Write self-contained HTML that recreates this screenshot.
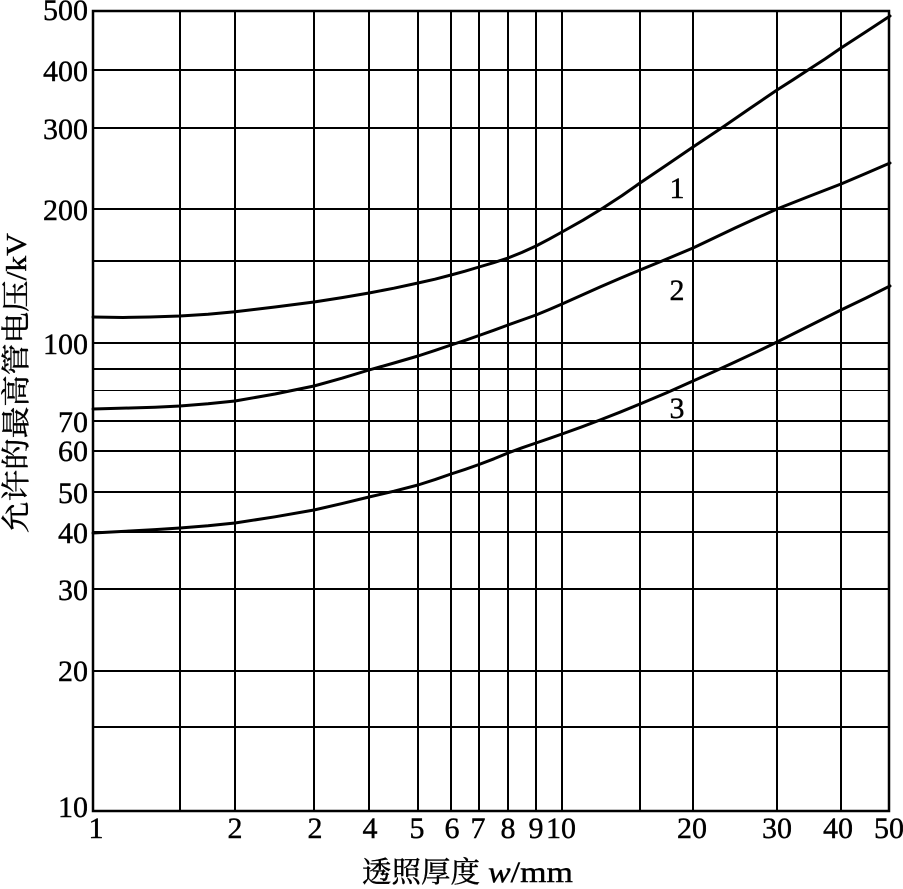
<!DOCTYPE html>
<html><head><meta charset="utf-8"><style>
html,body{margin:0;padding:0;background:#fff;}
svg{display:block;}
text{font-family:"Liberation Serif","Noto Serif CJK SC",serif;fill:#000;stroke:#000;stroke-width:0.4;}
</style></head><body>
<svg width="903" height="889" viewBox="0 0 903 889" xmlns="http://www.w3.org/2000/svg">
<rect width="903" height="889" fill="#fff"/>
<g stroke="#000" stroke-width="2" fill="none">
<line x1="180" y1="11" x2="180" y2="811"/>
<line x1="235" y1="11" x2="235" y2="811"/>
<line x1="314" y1="11" x2="314" y2="811"/>
<line x1="369" y1="11" x2="369" y2="811"/>
<line x1="418" y1="11" x2="418" y2="811"/>
<line x1="451" y1="11" x2="451" y2="811"/>
<line x1="479" y1="11" x2="479" y2="811"/>
<line x1="508" y1="11" x2="508" y2="811"/>
<line x1="536" y1="11" x2="536" y2="811"/>
<line x1="562" y1="11" x2="562" y2="811"/>
<line x1="640" y1="11" x2="640" y2="811"/>
<line x1="693" y1="11" x2="693" y2="811"/>
<line x1="777" y1="11" x2="777" y2="811"/>
<line x1="841" y1="11" x2="841" y2="811"/>
<line x1="93" y1="70" x2="889" y2="70"/>
<line x1="93" y1="128" x2="889" y2="128"/>
<line x1="93" y1="209" x2="889" y2="209"/>
<line x1="93" y1="261" x2="889" y2="261"/>
<line x1="93" y1="343" x2="889" y2="343"/>
<line x1="93" y1="369" x2="889" y2="369"/>
<line x1="93" y1="421" x2="889" y2="421"/>
<line x1="93" y1="451" x2="889" y2="451"/>
<line x1="93" y1="492" x2="889" y2="492"/>
<line x1="93" y1="532" x2="889" y2="532"/>
<line x1="93" y1="589" x2="889" y2="589"/>
<line x1="93" y1="671" x2="889" y2="671"/>
<line x1="93" y1="727" x2="889" y2="727"/>
</g>
<line x1="93" y1="390.5" x2="889" y2="390.5" stroke="#000" stroke-width="1"/>
<rect x="93" y="11" width="796" height="800" fill="none" stroke="#000" stroke-width="2.5"/>

<g stroke="#000" stroke-width="3" fill="none" stroke-linejoin="round" stroke-linecap="round">
<polyline points="93,317 123,317.5 150,317 180,316 208,314.2 235,311.7 275,307 314,302 342,297.6 369,293 394,288.2 418,283 435,279.2 451,275 465,271.2 479,267 494,262.6 508,258 522,252.4 536,246 549,239.2 562,232 583,220.2 603,208 622,195.6 640,183 667,164.8 693,147 708,137 723,127 750,108.4 777,90 793,79.8 808,70 825,59 841,48 866,31.8 890,16"/>
<polyline points="93,409 130,408 155,407.2 180,406 208,403.8 235,401 275,394 314,386 342,378.2 369,370 394,363 418,356 435,350.4 451,345 465,340.4 479,335.5 494,330.2 508,325 522,320 536,315 549,309.6 562,304 581,295.5 600,287 620,278.4 640,270 662,261 693,248 714,238 735,228 756,218.4 777,209 809,196.4 841,184 866,173.4 890,163"/>
<polyline points="93,533 130,531 155,529.6 180,528 208,525.8 235,523 275,516.8 314,510 342,503.6 369,497 394,491.2 418,485 435,479.6 451,474 465,469.4 479,464.5 494,458.8 508,453 522,447.8 536,443 549,438.6 562,434 581,427.2 600,420 620,412.2 640,404 667,392.6 693,381 714,371.6 735,362 756,352.2 777,342 809,326 841,310 866,298 890,286"/>
</g>

<g font-size="30" text-anchor="end">
<text x="88" y="20">500</text>
<text x="88" y="81">400</text>
<text x="88" y="139">300</text>
<text x="88" y="220">200</text>
<text x="88" y="354">100</text>
<text x="88" y="432">70</text>
<text x="88" y="461">60</text>
<text x="88" y="503">50</text>
<text x="88" y="543">40</text>
<text x="88" y="600">30</text>
<text x="88" y="681">20</text>
<text x="88" y="817">10</text>
</g>

<g font-size="30" text-anchor="middle">
<text x="96" y="838">1</text>
<text x="235" y="838">2</text>
<text x="315" y="838">2</text>
<text x="370" y="838">4</text>
<text x="417" y="838">5</text>
<text x="452" y="838">6</text>
<text x="478" y="838">7</text>
<text x="508" y="838">8</text>
<text x="536" y="838">9</text>
<text x="561" y="838">10</text>
<text x="692" y="838">20</text>
<text x="777" y="838">30</text>
<text x="838" y="838">40</text>
<text x="889" y="838">50</text>
</g>

<g font-size="30" text-anchor="middle">
<text x="677" y="198">1</text>
<text x="677" y="300">2</text>
<text x="677" y="418">3</text>
</g>

<text x="362" y="882" font-size="29" textLength="118" lengthAdjust="spacingAndGlyphs">透照厚度</text>
<text x="488" y="882" font-size="30" textLength="85" lengthAdjust="spacingAndGlyphs"><tspan font-style="italic">w</tspan>/mm</text>

<text transform="translate(26,533) rotate(-90)" font-size="29" textLength="300" lengthAdjust="spacingAndGlyphs">允许的最高管电压/kV</text>
</svg>
</body></html>
